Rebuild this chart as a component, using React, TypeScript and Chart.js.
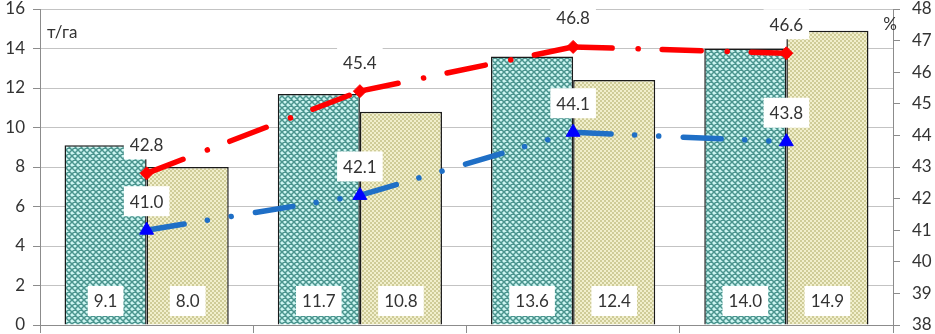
import React, { useEffect, useRef } from 'react';
import { Chart, registerables } from 'chart.js';

Chart.register(...registerables);

const categories = ['1', '2', '3', '4'];
const tealValues = [9.1, 11.7, 13.6, 14.0];
const yellowValues = [8.0, 10.8, 12.4, 14.9];
const redValues = [42.8, 45.4, 46.8, 46.6];
const blueValues = [41.0, 42.1, 44.1, 43.8];
const leftUnit = 'т/га';
const rightUnit = '%';

const FONT = 'Lato';
const TEXT = '#333333';
const AXIS = '#8c8c8c';

function makeTeal(): CanvasPattern | string {
  const c = document.createElement('canvas');
  c.width = 6;
  c.height = 6;
  const g = c.getContext('2d');
  if (!g) return '#8cc9c4';
  g.fillStyle = '#cdf5f1';
  g.fillRect(0, 0, 6, 6);
  g.strokeStyle = '#4a948e';
  g.lineWidth = 1.5;
  g.beginPath();
  for (let k = -1; k <= 1; k++) {
    g.moveTo(-2 + 6 * k, -2);
    g.lineTo(8 + 6 * k, 8);
    g.moveTo(8 + 6 * k, -2);
    g.lineTo(-2 + 6 * k, 8);
  }
  g.stroke();
  return g.createPattern(c, 'repeat') || '#8cc9c4';
}

function makeYellow(): CanvasPattern | string {
  const c = document.createElement('canvas');
  c.width = 4;
  c.height = 4;
  const g = c.getContext('2d');
  if (!g) return '#e4e2bb';
  g.fillStyle = '#f1efcc';
  g.fillRect(0, 0, 4, 4);
  g.fillStyle = '#cfcc98';
  g.fillRect(0, 0, 2, 2);
  g.fillRect(2, 2, 2, 2);
  return g.createPattern(c, 'repeat') || '#e4e2bb';
}

const labelPlugin = {
  id: 'valueLabels',
  afterDatasetsDraw(chart: any) {
    const ctx: CanvasRenderingContext2D = chart.ctx;
    ctx.save();
    ctx.font = `17px ${FONT}`;
    ctx.textAlign = 'center';
    ctx.textBaseline = 'middle';
    const base = chart.scales.y.getPixelForValue(0);
    chart.data.datasets.forEach((ds: any, di: number) => {
      const meta = chart.getDatasetMeta(di);
      meta.data.forEach((el: any, i: number) => {
        const v = ds.data[i] as number;
        const text = v.toFixed(1);
        const x = el.x;
        const y = meta.type === 'bar' ? base - 24 : el.y - 29;
        const w = ctx.measureText(text).width + 12;
        const h = 30;
        ctx.fillStyle = '#ffffff';
        ctx.fillRect(x - w / 2, y - h / 2, w, h);
        ctx.fillStyle = TEXT;
        ctx.fillText(text, x, y + 1);
      });
    });
    ctx.restore();
  },
  afterDraw(chart: any) {
    const ctx: CanvasRenderingContext2D = chart.ctx;
    const area = chart.chartArea;
    ctx.save();
    ctx.font = `17px ${FONT}`;
    ctx.fillStyle = TEXT;
    ctx.textBaseline = 'middle';
    ctx.textAlign = 'left';
    ctx.fillText(leftUnit, area.left + 7, area.top + 24);
    ctx.textAlign = 'right';
    ctx.fillText(rightUnit, area.right + 4, area.top + 16);
    ctx.restore();
  },
};

export default function App() {
  const ref = useRef<HTMLCanvasElement | null>(null);

  useEffect(() => {
    if (!ref.current) return;
    Chart.defaults.font.family = FONT;
    const restart = (c: any) => c.p0DataIndex * 0.001;
    const chart = new Chart(ref.current, {
      type: 'bar',
      data: {
        labels: categories,
        datasets: [
          {
            type: 'line',
            data: redValues,
            yAxisID: 'y1',
            order: 1,
            borderColor: '#ff0000',
            backgroundColor: '#ff0000',
            borderWidth: 5.5,
            borderCapStyle: 'round',
            borderDash: [39, 26, 0.1, 24],
            pointStyle: 'rectRot',
            pointRadius: 6.5,
            pointBackgroundColor: '#ff0000',
            pointBorderColor: '#ff0000',
            pointBorderWidth: 1,
            tension: 0,
            segment: { borderDashOffset: restart },
          } as any,
          {
            type: 'line',
            data: blueValues,
            yAxisID: 'y1',
            order: 1,
            borderColor: '#1f6fc6',
            backgroundColor: '#0000ff',
            borderWidth: 5.5,
            borderCapStyle: 'round',
            borderDash: [38, 23.5, 0.1, 24, 0.1, 24.5],
            pointStyle: 'triangle',
            pointRadius: 8,
            pointBackgroundColor: '#0000ff',
            pointBorderColor: '#0000ff',
            pointBorderWidth: 1,
            tension: 0,
            segment: { borderDashOffset: restart },
          } as any,
          {
            type: 'bar',
            data: tealValues,
            yAxisID: 'y',
            order: 2,
            backgroundColor: makeTeal(),
            borderColor: '#1a1a1a',
            borderWidth: 1.5,
            categoryPercentage: 0.77,
            barPercentage: 1,
          } as any,
          {
            type: 'bar',
            data: yellowValues,
            yAxisID: 'y',
            order: 2,
            backgroundColor: makeYellow(),
            borderColor: '#1a1a1a',
            borderWidth: 1.5,
            categoryPercentage: 0.77,
            barPercentage: 1,
          } as any,
        ],
      },
      options: {
        responsive: false,
        animation: false,
        layout: { padding: { top: 9, left: 0, right: 0, bottom: 0 } },
        plugins: {
          legend: { display: false },
          tooltip: { enabled: false },
          title: { display: false },
        },
        scales: {
          x: {
            type: 'category',
            offset: true,
            grid: {
              display: true,
              drawOnChartArea: false,
              drawTicks: true,
              tickLength: 8,
              color: AXIS,
              offset: true,
            },
            border: { display: true, color: AXIS, width: 1 },
            ticks: { display: false },
            afterFit: (s: any) => {
              s.height = 8;
              s.paddingLeft = 0;
              s.paddingRight = 0;
            },
          },
          y: {
            position: 'left',
            min: 0,
            max: 16,
            ticks: {
              stepSize: 2,
              padding: 8,
              color: TEXT,
              font: { size: 17, family: FONT, lineHeight: 0.9 },
            },
            grid: { color: '#c3c3c3', tickColor: AXIS, tickLength: 7 },
            border: { display: true, color: AXIS, width: 1 },
            afterFit: (s: any) => {
              s.width = 40;
              s.paddingTop = 0;
              s.paddingBottom = 0;
            },
          },
          y1: {
            position: 'right',
            min: 38,
            max: 48,
            ticks: {
              stepSize: 1,
              padding: 12,
              color: TEXT,
              font: { size: 17, family: FONT, lineHeight: 0.9 },
            },
            grid: { drawOnChartArea: false, color: AXIS, tickLength: 7 },
            border: { display: true, color: AXIS, width: 1 },
            afterFit: (s: any) => {
              s.width = 42;
              s.paddingTop = 0;
              s.paddingBottom = 0;
            },
          },
        },
      } as any,
      plugins: [labelPlugin],
    });
    return () => chart.destroy();
  }, []);

  return (
    <div style={{ position: 'absolute', left: 0, top: 0, width: 935, height: 334, background: '#ffffff' }}>
      <canvas ref={ref} width={935} height={334} style={{ display: 'block' }} />
    </div>
  );
}
